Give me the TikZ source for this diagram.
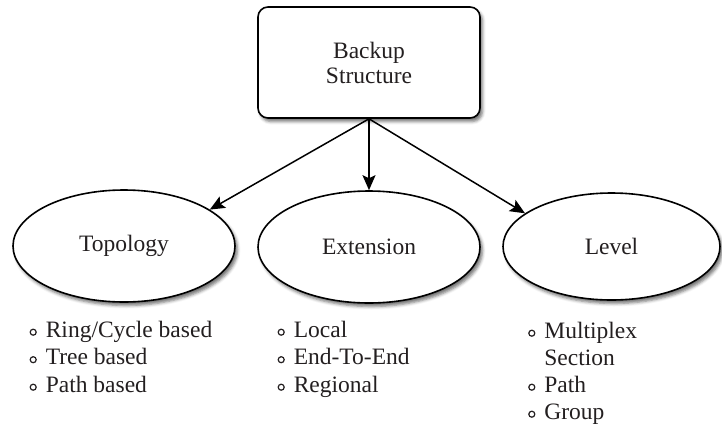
\documentclass[tikz,border=0pt]{standalone}
\usepackage{fontspec}
\setmainfont{Liberation Serif}
\usetikzlibrary{arrows.meta,shapes.geometric,shadows.blur}
\definecolor{ink}{HTML}{231F20}
% small open bullet used in the item lists
\newcommand\listbullet{\tikz[baseline=0pt]\draw[line width=1.2pt,draw=ink] (3.6pt,4.8pt) circle[radius=3pt];}
\newcommand\bitem{\listbullet\hspace{9pt}}
\begin{document}
\begin{tikzpicture}[x=1pt,y=-1pt,
  every node/.style={font=\fontsize{23.5}{27.2}\selectfont, text=ink},
  softshadow/.style={blur shadow={shadow xshift=2.5pt, shadow yshift=-3.5pt,
      shadow blur radius=3pt, shadow opacity=55}},
  rootbox/.style={draw, line width=1.6pt, rounded corners=10pt, fill=white,
      minimum width=222pt, minimum height=111pt, align=center, softshadow,
      font=\fontsize{23.5}{25}\selectfont},
  oval/.style={ellipse, draw, line width=1.6pt, fill=white, inner sep=0pt, softshadow},
  itemline/.style={anchor=base west, inner sep=0pt},
  arr/.style={line width=1.5pt, -{Stealth[length=15pt,width=13pt,inset=3pt]}}]
\useasboundingbox (0,0) rectangle (722,426);

% root of the classification
\node[rootbox] (bk) at (369,62.5) {Backup\\Structure};

% the three criteria
\node[oval, minimum width=222pt, minimum height=112pt] (topo) at (124,246) {Topology};
\node[oval, minimum width=222pt, minimum height=112pt] (ext)  at (369,247) {Extension};
\node[oval, minimum width=217pt, minimum height=107pt] (lvl)  at (611.5,246.5) {Level};

% connectors
\draw[arr] (bk.south) -- (topo.23);
\draw[arr] (bk.south) -- (ext.north);
\draw[arr] (bk.south) -- (lvl.159);

% item lists under each criterion
\node[itemline] (topo1) at (29.4,337)   {\bitem Ring/Cycle based};
\node[itemline] (topo2) at (29.4,364.5) {\bitem Tree based};
\node[itemline] (topo3) at (29.4,392)   {\bitem Path based};

\node[itemline] (ext1) at (277.4,337)   {\bitem Local};
\node[itemline] (ext2) at (277.4,364.5) {\bitem End-To-End};
\node[itemline] (ext3) at (277.4,392)   {\bitem Regional};

\node[itemline] (lvl1) at (528,338)   {\bitem Multiplex};
\node[itemline] (lvl2) at (528,365)   {\hspace*{16.2pt}Section};
\node[itemline] (lvl3) at (528,392)   {\bitem Path};
\node[itemline] (lvl4) at (528,419)   {\bitem Group};
\end{tikzpicture}
\end{document}
